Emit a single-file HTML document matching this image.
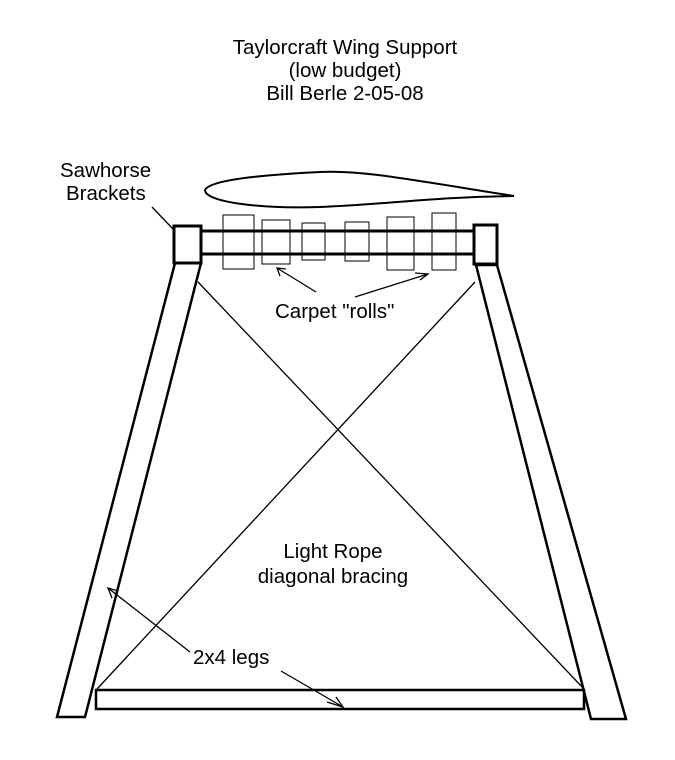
<!DOCTYPE html>
<html><head><style>
html,body{margin:0;padding:0;background:#fff;}
svg{display:block;}
text{font-family:"Liberation Sans",Arial,sans-serif;font-size:20.5px;fill:#000;}
</style></head><body>
<svg width="675" height="760" viewBox="0 0 675 760" xmlns="http://www.w3.org/2000/svg">
<rect width="675" height="760" fill="#fff"/>
<text x="345" y="54" text-anchor="middle">Taylorcraft Wing Support</text>
<text x="345" y="77" text-anchor="middle">(low budget)</text>
<text x="345" y="100" text-anchor="middle">Bill Berle 2-05-08</text>
<text x="60" y="177">Sawhorse</text>
<text x="66" y="200">Brackets</text>
<text x="275" y="318">Carpet "rolls"</text>
<text x="333" y="558" text-anchor="middle">Light Rope</text>
<text x="333" y="583" text-anchor="middle">diagonal bracing</text>
<text x="193" y="664">2x4 legs</text>
<!-- airfoil -->
<path d="M205,190 C210,180 260,175 320,172 C360,170 400,178 514,196 C430,197 380,205 320,207 C260,209 205,202 205,190 Z" fill="none" stroke="#000" stroke-width="2"/>
<!-- legs -->
<polygon points="175,263 201,263 85,717 57,717" fill="#fff" stroke="#000" stroke-width="2.5"/>
<polygon points="476,265 497,265 626,719 591,719" fill="#fff" stroke="#000" stroke-width="2.5"/>
<!-- ropes -->
<line x1="198" y1="282" x2="584" y2="689" stroke="#000" stroke-width="1.3"/>
<line x1="475" y1="282" x2="97" y2="689" stroke="#000" stroke-width="1.3"/>
<!-- bottom bar -->
<rect x="96" y="690" width="488" height="19" fill="#fff" stroke="#000" stroke-width="2.5"/>
<!-- rolls -->
<g fill="none" stroke="#000" stroke-width="1">
<rect x="223" y="215" width="31" height="54"/>
<rect x="262" y="220" width="28" height="44"/>
<rect x="302" y="223" width="23" height="37"/>
<rect x="345" y="222" width="24" height="39"/>
<rect x="387" y="217" width="27" height="53"/>
<rect x="432" y="213" width="24" height="57"/>
</g>
<!-- rails -->
<line x1="200" y1="231" x2="476" y2="231" stroke="#000" stroke-width="3"/>
<line x1="200" y1="254" x2="476" y2="254" stroke="#000" stroke-width="3"/>
<!-- brackets -->
<rect x="174" y="226" width="27" height="37" fill="#fff" stroke="#000" stroke-width="3"/>
<rect x="474" y="225" width="23" height="39" fill="#fff" stroke="#000" stroke-width="3"/>
<!-- arrows -->
<g stroke="#000" stroke-width="1.3" fill="none">
<line x1="152" y1="207" x2="173" y2="229"/>
<line x1="316" y1="292" x2="277" y2="268"/><polyline points="280,276 277,268 286,269"/>
<line x1="355" y1="297" x2="428" y2="274"/><polyline points="415,273 428,274 420,280"/>
<line x1="190" y1="652" x2="108" y2="588"/><polyline points="112,598 108,588 118,591"/>
<line x1="281" y1="671" x2="343" y2="707"/><polyline points="327,702 343,707 336,697"/>
</g>
</svg>
</body></html>
